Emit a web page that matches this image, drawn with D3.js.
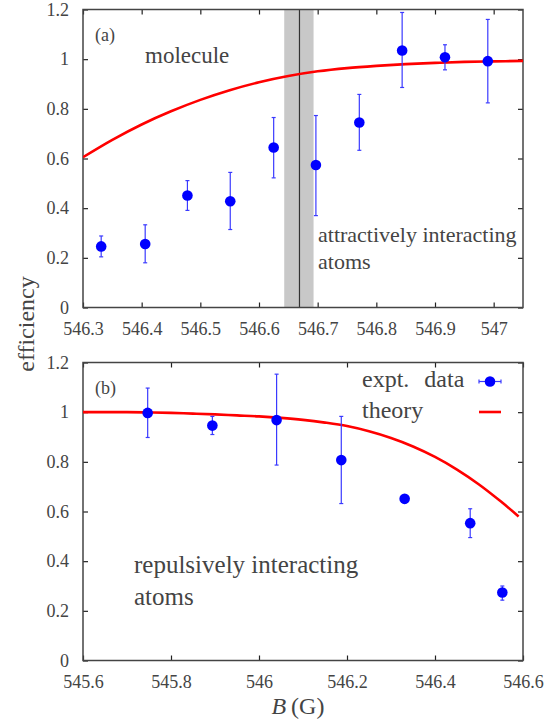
<!DOCTYPE html>
<html>
<head>
<meta charset="utf-8">
<script src="https://cdn.jsdelivr.net/npm/d3@7"></script>
<style>
  html, body { margin: 0; padding: 0; background: #fff; }
  svg { display: block; }
  text { font-family: "Liberation Serif", "Times New Roman", serif; fill: #444; }
</style>
</head>
<body>
<div id="chart"></div>
<script>
// ---------- data ----------
// Panel (a)
const topB       = [546.331, 546.406, 546.478, 546.551, 546.625, 546.697, 546.771, 546.844, 546.917, 546.990];
const topEff     = [0.246, 0.256, 0.451, 0.428, 0.644, 0.574, 0.745, 1.035, 1.008, 0.992];
const topErrHi   = [0.288, 0.333, 0.511, 0.544, 0.765, 0.773, 0.858, 1.188, 1.058, 1.160];
const topErrLo   = [0.204, 0.180, 0.391, 0.314, 0.522, 0.370, 0.633, 0.886, 0.957, 0.824];
const topTheoryB = [546.30, 546.35, 546.40, 546.45, 546.50, 546.55, 546.60, 546.65, 546.70, 546.75, 546.80, 546.85, 546.90, 546.95, 547.00, 547.05];
const topTheory  = [0.605, 0.675, 0.737, 0.790, 0.836, 0.875, 0.907, 0.932, 0.951, 0.964, 0.973, 0.980, 0.985, 0.989, 0.991, 0.993];
const bandRange  = [546.643, 546.693];
const resonanceB = 546.669;
const topXTicks  = [546.3, 546.4, 546.5, 546.6, 546.7, 546.8, 546.9, 547.0];
const topXDomain = [546.3, 547.05];

// Panel (b)
const botB       = [545.747, 545.894, 546.040, 546.187, 546.331, 546.480, 546.553];
const botEff     = [0.997, 0.946, 0.968, 0.807, 0.651, 0.553, 0.274];
const botErrHi   = [1.097, 0.983, 1.153, 0.983, 0.656, 0.611, 0.300];
const botErrLo   = [0.898, 0.910, 0.787, 0.632, 0.646, 0.495, 0.243];
const botTheoryB = [545.60, 545.65, 545.70, 545.75, 545.80, 545.85, 545.90, 545.95, 546.00, 546.05, 546.10, 546.15, 546.20, 546.25, 546.30, 546.35, 546.40, 546.45, 546.50, 546.55, 546.59];
const botTheory  = [1.000, 1.000, 1.000, 0.999, 0.997, 0.994, 0.991, 0.987, 0.983, 0.977, 0.969, 0.958, 0.944, 0.923, 0.896, 0.862, 0.820, 0.769, 0.709, 0.640, 0.580];
const botXTicks  = [545.6, 545.8, 546.0, 546.2, 546.4, 546.6];
const botXDomain = [545.6, 546.6];

const yTicks  = [0, 0.2, 0.4, 0.6, 0.8, 1.0, 1.2];
const yDomain = [0, 1.2];

// ---------- layout ----------
const W = 545, H = 723;
const left = 83, right = 523;
const panels = [
  { top: 9.5,   bottom: 307.5, xDomain: topXDomain, xTicks: topXTicks,
    B: topB, eff: topEff, hi: topErrHi, lo: topErrLo, tB: topTheoryB, t: topTheory, tag: "(a)" },
  { top: 362.5, bottom: 660.5, xDomain: botXDomain, xTicks: botXTicks,
    B: botB, eff: botEff, hi: botErrHi, lo: botErrLo, tB: botTheoryB, t: botTheory, tag: "(b)" }
];

const svg = d3.select("#chart").append("svg")
  .attr("width", W).attr("height", H)
  .attr("viewBox", `0 0 ${W} ${H}`);

const fmt = d => String(+d.toFixed(1));
const blue = "#0000ff", errBlue = "#3a3aff", red = "#ff0000", axisCol = "#444";

panels.forEach((p, i) => {
  const x = d3.scaleLinear().domain(p.xDomain).range([left, right]);
  const y = d3.scaleLinear().domain(yDomain).range([p.bottom, p.top]);
  const g = svg.append("g");

  // shaded resonance region (panel a)
  if (i === 0) {
    g.append("rect")
      .attr("x", x(bandRange[0])).attr("y", p.top)
      .attr("width", x(bandRange[1]) - x(bandRange[0]))
      .attr("height", p.bottom - p.top)
      .attr("fill", "#c8c8c8");
    g.append("line")
      .attr("x1", x(resonanceB)).attr("x2", x(resonanceB))
      .attr("y1", p.top).attr("y2", p.bottom)
      .attr("stroke", "#333").attr("stroke-width", 1.2);
  }

  // axes
  const axL = d3.axisLeft(y).tickValues(yTicks).tickFormat(fmt).tickSize(-5).tickPadding(14);
  const axR = d3.axisRight(y).tickValues(yTicks).tickFormat("").tickSize(-5);
  const axB = d3.axisBottom(x).tickValues(p.xTicks).tickFormat(fmt).tickSize(-5).tickPadding(15);
  const axT = d3.axisTop(x).tickValues(p.xTicks).tickFormat("").tickSize(-5);
  [[axL, `translate(${left},0)`], [axR, `translate(${right},0)`],
   [axB, `translate(0,${p.bottom})`], [axT, `translate(0,${p.top})`]].forEach(([ax, tr]) => {
    const a = g.append("g").attr("transform", tr).call(ax);
    a.select(".domain").remove();
    a.selectAll("line").attr("stroke", "#222").attr("stroke-width", 1.2);
    a.selectAll("text").attr("font-size", 18).attr("fill", "#555")
      .style("font-family", "'Liberation Serif', serif");
  });

  g.append("rect")
    .attr("x", left).attr("y", p.top)
    .attr("width", right - left).attr("height", p.bottom - p.top)
    .attr("fill", "none").attr("stroke", axisCol).attr("stroke-width", 1.5);

  // theory curve
  const clipId = "clip" + i;
  svg.append("clipPath").attr("id", clipId).append("rect")
    .attr("x", left).attr("y", p.top).attr("width", right - left).attr("height", p.bottom - p.top);
  const line = d3.line().x(d => x(d[0])).y(d => y(d[1])).curve(d3.curveCatmullRom);
  g.append("path")
    .datum(p.tB.map((b, k) => [b, p.t[k]]))
    .attr("d", line)
    .attr("clip-path", `url(#${clipId})`)
    .attr("fill", "none").attr("stroke", red).attr("stroke-width", 2.6);

  // error bars
  const pts = p.B.map((b, k) => ({ b, v: p.eff[k], hi: p.hi[k], lo: p.lo[k] }));
  const eb = g.append("g").attr("stroke", errBlue).attr("stroke-width", 1.2);
  pts.forEach(d => {
    eb.append("line").attr("x1", x(d.b)).attr("x2", x(d.b)).attr("y1", y(d.hi)).attr("y2", y(d.lo));
    eb.append("line").attr("x1", x(d.b) - 2).attr("x2", x(d.b) + 2).attr("y1", y(d.hi)).attr("y2", y(d.hi));
    eb.append("line").attr("x1", x(d.b) - 2).attr("x2", x(d.b) + 2).attr("y1", y(d.lo)).attr("y2", y(d.lo));
  });
  g.append("g").selectAll("circle").data(pts).join("circle")
    .attr("cx", d => x(d.b)).attr("cy", d => y(d.v)).attr("r", 5.3).attr("fill", blue);

  // panel tag
  g.append("text").attr("x", left + 12).attr("y", p.top + 31).attr("font-size", 18).text(p.tag);
});

// annotations
svg.append("text").attr("x", 145).attr("y", 63).attr("font-size", 23).text("molecule");
svg.append("text").attr("x", 318).attr("y", 242).attr("font-size", 22).text("attractively interacting");
svg.append("text").attr("x", 318).attr("y", 269).attr("font-size", 22).text("atoms");
svg.append("text").attr("x", 134).attr("y", 573).attr("font-size", 25).text("repulsively interacting");
svg.append("text").attr("x", 134).attr("y", 605).attr("font-size", 25).text("atoms");

// legend (panel b)
svg.append("text").attr("x", 362).attr("y", 387).attr("font-size", 24).attr("word-spacing", 9).text("expt. data");
svg.append("text").attr("x", 362).attr("y", 418).attr("font-size", 24).text("theory");
const lg = svg.append("g");
lg.append("line").attr("x1", 479).attr("x2", 501).attr("y1", 381.5).attr("y2", 381.5)
  .attr("stroke", errBlue).attr("stroke-width", 1.2);
[479, 501].forEach(cx => lg.append("line").attr("x1", cx).attr("x2", cx).attr("y1", 379.5).attr("y2", 383.5)
  .attr("stroke", errBlue).attr("stroke-width", 1.2));
lg.append("circle").attr("cx", 490).attr("cy", 381.5).attr("r", 5.3).attr("fill", blue);
lg.append("line").attr("x1", 479).attr("x2", 501).attr("y1", 412).attr("y2", 412)
  .attr("stroke", red).attr("stroke-width", 2.6);

// axis titles
svg.append("text").attr("transform", "translate(34,324) rotate(-90)")
  .attr("text-anchor", "middle").attr("font-size", 24).text("efficiency");
const xt = svg.append("text").attr("x", 298).attr("y", 714).attr("text-anchor", "middle").attr("font-size", 24);
xt.append("tspan").attr("font-style", "italic").text("B");
xt.append("tspan").text("\u2009(G)");
</script>
</body>
</html>
